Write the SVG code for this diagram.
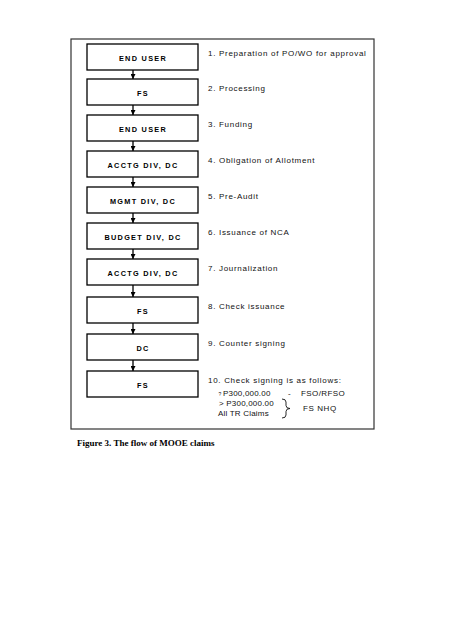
<svg xmlns="http://www.w3.org/2000/svg" width="453" height="640" viewBox="0 0 453 640">
<defs>
<marker id="ah" viewBox="0 0 6 6" refX="6" refY="3" markerWidth="5" markerHeight="5" markerUnits="userSpaceOnUse" orient="auto">
<path d="M0,0 L6,3 L0,6 Z" fill="#000"/>
</marker>
<style>
.box{fill:#fff;stroke:#000;stroke-width:1.3}
.bt{font-family:"Liberation Sans",Arial,sans-serif;font-weight:bold;font-size:7.3px;letter-spacing:1.3px;text-anchor:middle;fill:#000}
.lb{font-family:"Liberation Sans",Arial,sans-serif;font-size:8px;letter-spacing:0.7px;fill:#111}
.sm{letter-spacing:0.2px}
.cn{stroke:#000;stroke-width:1.3;fill:none}
</style>
</defs>
<rect width="453" height="640" fill="#fff"/>
<rect x="71" y="39" width="303" height="390" fill="none" stroke="#333" stroke-width="1.2"/>
<g id="connectors">
<line class="cn" x1="133" y1="70" x2="133" y2="79" marker-end="url(#ah)"/>
<line class="cn" x1="133" y1="105" x2="133" y2="115" marker-end="url(#ah)"/>
<line class="cn" x1="133" y1="141" x2="133" y2="151" marker-end="url(#ah)"/>
<line class="cn" x1="133" y1="177" x2="133" y2="187" marker-end="url(#ah)"/>
<line class="cn" x1="133" y1="213" x2="133" y2="223" marker-end="url(#ah)"/>
<line class="cn" x1="133" y1="249" x2="133" y2="259" marker-end="url(#ah)"/>
<line class="cn" x1="133" y1="285" x2="133" y2="297" marker-end="url(#ah)"/>
<line class="cn" x1="133" y1="323" x2="133" y2="334" marker-end="url(#ah)"/>
<line class="cn" x1="133" y1="360" x2="133" y2="371" marker-end="url(#ah)"/>
</g>
<g id="n1"><rect class="box" x="87" y="44" width="111" height="26"/><text class="bt" x="143" y="60.5">END USER</text><text class="lb" x="208" y="56">1. Preparation of PO/WO for approval</text></g>
<g id="n2"><rect class="box" x="87" y="79" width="111" height="26"/><text class="bt" x="143" y="95.5">FS</text><text class="lb" x="208" y="91">2. Processing</text></g>
<g id="n3"><rect class="box" x="87" y="115" width="111" height="26"/><text class="bt" x="143" y="131.5">END USER</text><text class="lb" x="208" y="127">3. Funding</text></g>
<g id="n4"><rect class="box" x="87" y="151" width="111" height="26"/><text class="bt" x="143" y="167.5">ACCTG DIV, DC</text><text class="lb" x="208" y="162.5">4. Obligation of Allotment</text></g>
<g id="n5"><rect class="box" x="87" y="187" width="111" height="26"/><text class="bt" x="143" y="203.5">MGMT DIV, DC</text><text class="lb" x="208" y="198.5">5. Pre-Audit</text></g>
<g id="n6"><rect class="box" x="87" y="223" width="111" height="26"/><text class="bt" x="143" y="239.5">BUDGET DIV, DC</text><text class="lb" x="208" y="234.5">6. Issuance of NCA</text></g>
<g id="n7"><rect class="box" x="87" y="259" width="111" height="26"/><text class="bt" x="143" y="275.5">ACCTG DIV, DC</text><text class="lb" x="208" y="270.5">7. Journalization</text></g>
<g id="n8"><rect class="box" x="87" y="297" width="111" height="26"/><text class="bt" x="143" y="313.5">FS</text><text class="lb" x="208" y="309">8. Check issuance</text></g>
<g id="n9"><rect class="box" x="87" y="334" width="111" height="26"/><text class="bt" x="143" y="350.5">DC</text><text class="lb" x="208" y="346">9. Counter signing</text></g>
<g id="n10"><rect class="box" x="87" y="371" width="111" height="26"/><text class="bt" x="143" y="387.5">FS</text>
<text class="lb" x="208" y="383">10. Check signing is as follows:</text>
<text class="lb" x="218.5" y="396" style="font-size:5px;letter-spacing:0">?</text>
<text class="lb sm" x="223" y="396">P300,000.00</text>
<text class="lb" x="288" y="396">-</text>
<text class="lb" x="301" y="396" style="letter-spacing:0.4px">FSO/RFSO</text>
<text class="lb sm" x="219" y="406">&gt; P300,000.00</text>
<text class="lb sm" x="218" y="416">All TR Claims</text>
<path d="M282,399 Q286,399 286,402 L286,405.5 Q286,408.5 290,408.5 Q286,408.5 286,411.5 L286,415 Q286,418 282,418" fill="none" stroke="#111" stroke-width="0.9"/>
<text class="lb" x="303" y="411" style="letter-spacing:0.6px">FS NHQ</text>
</g>
<text x="77" y="446" font-family="'Liberation Serif','Times New Roman',serif" font-weight="bold" font-size="9" fill="#000">Figure 3. The flow of MOOE claims</text>
</svg>
